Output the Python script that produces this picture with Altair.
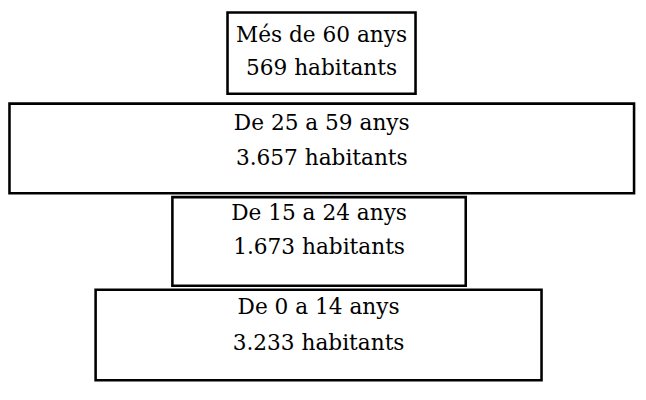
import altair as alt
import pandas as pd

# Data
grups = ["Més de 60 anys", "De 25 a 59 anys", "De 15 a 24 anys", "De 0 a 14 anys"]
habitants = ["569", "3.657", "1.673", "3.233"]

# Layout of the boxes (screen-like coordinates)
box_left = [231, 9.5, 175, 97]
box_right = [422, 644, 473, 550]
box_top = [9.5, 102, 197, 291]
box_bottom = [92, 193, 287, 383]
text_y1 = [32, 122, 213, 309]
text_y2 = [66, 157, 248, 345]

df = pd.DataFrame({
    "grup": grups,
    "hab": [h + " habitants" for h in habitants],
    "x1": box_left,
    "x2": box_right,
    "y1": box_top,
    "y2": box_bottom,
    "t1": text_y1,
    "t2": text_y2,
})
df["xc"] = (df["x1"] + df["x2"]) / 2

xs = alt.Scale(domain=[8, 648], nice=False, zero=False)
ys = alt.Scale(domain=[402, 8], nice=False, zero=False)

base = alt.Chart(df)

boxes = base.mark_rect(fill="white", stroke="black", strokeWidth=2.6).encode(
    x=alt.X("x1:Q", scale=xs, axis=None),
    x2="x2:Q",
    y=alt.Y("y1:Q", scale=ys, axis=None),
    y2="y2:Q",
)

font = "DejaVu Serif"
line1 = base.mark_text(font=font, fontSize=22, color="black", baseline="middle").encode(
    x=alt.X("xc:Q", scale=xs, axis=None),
    y=alt.Y("t1:Q", scale=ys, axis=None),
    text="grup:N",
)
line2 = base.mark_text(font=font, fontSize=22, color="black", baseline="middle").encode(
    x=alt.X("xc:Q", scale=xs, axis=None),
    y=alt.Y("t2:Q", scale=ys, axis=None),
    text="hab:N",
)

chart = (boxes + line1 + line2).properties(
    width=640, height=394,
    autosize=alt.AutoSizeParams(type="none"),
    padding=0,
).configure_view(stroke=None)

chart.save("out.html", embed_options={"renderer": "svg", "actions": False})
